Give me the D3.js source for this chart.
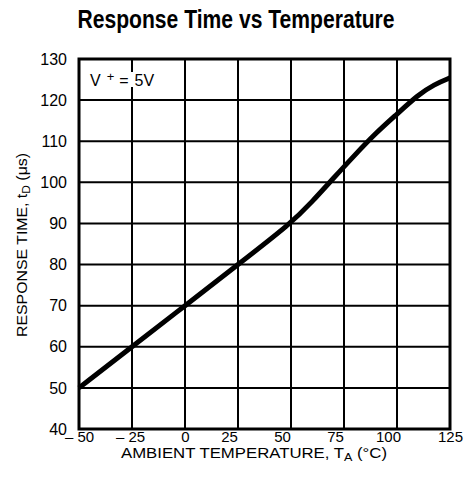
<!DOCTYPE html>
<html>
<head>
<meta charset="utf-8">
<script src="https://cdn.jsdelivr.net/npm/d3@7"></script>
<style>
  body { margin: 0; background: #fff; }
  text { font-family: "Liberation Sans", Arial, sans-serif; fill: #000; }
</style>
</head>
<body>
<div id="chart"></div>
<script>
// data
var temps = [-50, -25, 0, 25, 50, 60, 70, 80, 90, 100, 110, 117.5, 125];
var responseTimes = [50, 60, 70, 80, 90, 95.3, 101, 106.6, 112, 116.6, 121.3, 123.8, 125.4];
var xTicks = [-50, -25, 0, 25, 50, 75, 100, 125];
var xTickLabels = ["\u2013 50", "\u2013 25", "0", "25", "50", "75", "100", "125"];
var yTicks = [40, 50, 60, 70, 80, 90, 100, 110, 120, 130];

var W = 464, H = 483;
var margin = { top: 59, right: 14, bottom: 54, left: 79 },
    width = W - margin.left - margin.right,
    height = H - margin.top - margin.bottom;

var x = d3.scaleLinear().domain([-50, 125]).range([0, width]);
var y = d3.scaleLinear().domain([40, 130]).range([height, 0]);

var svg = d3.select("#chart").append("svg")
    .attr("width", W)
    .attr("height", H);

// title (condensed by textLength, no narrow font installed)
svg.append("text")
    .attr("x", 236)
    .attr("y", 28)
    .attr("text-anchor", "middle")
    .attr("textLength", 317)
    .attr("lengthAdjust", "spacingAndGlyphs")
    .style("font-size", "25px")
    .style("font-weight", "bold")
    .text("Response Time vs Temperature");

var g = svg.append("g")
    .attr("transform", "translate(" + margin.left + "," + margin.top + ")");

// grid
g.selectAll(".vgrid").data(xTicks).enter().append("line")
    .attr("x1", function (d) { return x(d); })
    .attr("x2", function (d) { return x(d); })
    .attr("y1", 0).attr("y2", height)
    .attr("stroke", "#000").attr("stroke-width", 2);

g.selectAll(".hgrid").data(yTicks).enter().append("line")
    .attr("x1", 0).attr("x2", width)
    .attr("y1", function (d) { return y(d); })
    .attr("y2", function (d) { return y(d); })
    .attr("stroke", "#000").attr("stroke-width", 2);

// frame
g.append("rect")
    .attr("width", width).attr("height", height)
    .attr("fill", "none").attr("stroke", "#000").attr("stroke-width", 3);

// axes (labels only)
var xAxis = g.append("g")
    .attr("transform", "translate(0," + height + ")")
    .call(d3.axisBottom(x).tickValues(xTicks)
        .tickFormat(function (d, i) { return xTickLabels[i]; })
        .tickSize(0).tickPadding(2));
xAxis.select(".domain").remove();
xAxis.selectAll("text")
    .style("font-size", "15px")
    .attr("font-family", null)
    // the printed labels sit a little left of their gridlines
    .attr("dx", function (d) { return (d >= 25 && d <= 100) ? -9 : (d === -25 ? -2 : 0); });

var yAxis = g.append("g")
    .call(d3.axisLeft(y).tickValues(yTicks).tickSize(0).tickPadding(12));
yAxis.select(".domain").remove();
yAxis.selectAll("text").style("font-size", "16px").attr("font-family", null);

// curve
var line = d3.line()
    .x(function (d, i) { return x(temps[i]); })
    .y(function (d) { return y(d); })
    .curve(d3.curveBasis);

g.append("path")
    .datum(responseTimes)
    .attr("fill", "none")
    .attr("stroke", "#000")
    .attr("stroke-width", 5)
    .attr("d", line);

// annotation
g.append("rect")
    .attr("x", 9).attr("y", 13).attr("width", 70).attr("height", 15)
    .attr("fill", "#fff");
var t = g.append("text")
    .attr("x", 11).attr("y", 27)
    .style("font-size", "16px");
t.append("tspan").text("V");
t.append("tspan").attr("dy", -5).attr("dx", 6).style("font-size", "13px").text("+");
t.append("tspan").attr("dy", 5).attr("dx", 5).text("=");
t.append("tspan").attr("dx", 6).text("5V");

// axis titles
svg.append("text")
    .attr("x", 254)
    .attr("y", 458)
    .attr("text-anchor", "middle")
    .attr("textLength", 266)
    .attr("lengthAdjust", "spacingAndGlyphs")
    .style("font-size", "14px")
    .html("AMBIENT TEMPERATURE, T<tspan dy='3' style='font-size:10.5px'>A</tspan><tspan dy='-3'> (°C)</tspan>");

svg.append("text")
    .attr("transform", "translate(27,245) rotate(-90)")
    .attr("text-anchor", "middle")
    .attr("textLength", 184)
    .attr("lengthAdjust", "spacingAndGlyphs")
    .style("font-size", "14.5px")
    .html("RESPONSE TIME, t<tspan dy='3' style='font-size:11px'>D</tspan><tspan dy='-3'> (\u03bcs)</tspan>");
</script>
</body>
</html>
